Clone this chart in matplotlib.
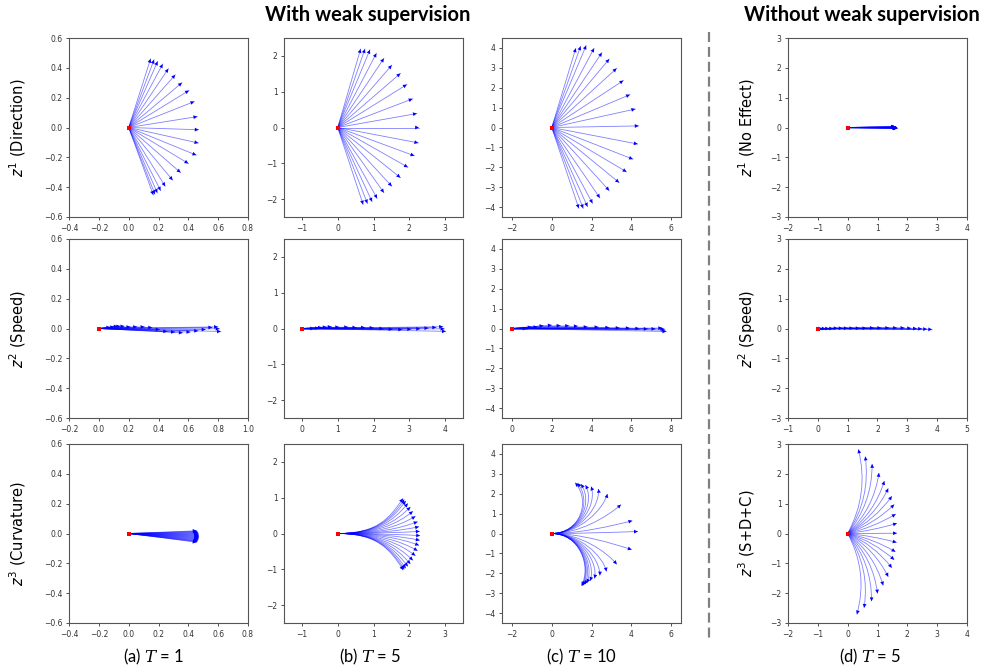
import matplotlib
matplotlib.use("Agg")
import matplotlib.pyplot as plt
from matplotlib.path import Path
from matplotlib.patches import PathPatch
from matplotlib.lines import Line2D

# ---------------- data ----------------
ORIGIN = (0.0, 0.0)

# Row 1: z^1 (Direction) / (No Effect)
A1_X = [0.147, 0.17, 0.194, 0.228, 0.266, 0.312, 0.357, 0.404, 0.44, 0.46, 0.469,
        0.467, 0.453, 0.40, 0.348, 0.295, 0.245, 0.214, 0.192, 0.176, 0.165]
A1_Y = [0.46, 0.454, 0.443, 0.425, 0.394, 0.353, 0.30, 0.248, 0.174, 0.073, -0.015,
        -0.104, -0.185, -0.241, -0.302, -0.353, -0.394, -0.423, -0.438, -0.447, -0.452]
B1_X = [0.64, 0.76, 0.90, 1.08, 1.29, 1.51, 1.75, 1.93, 2.09, 2.21, 2.27,
        2.25, 2.14, 1.96, 1.75, 1.51, 1.29, 1.10, 0.96, 0.83, 0.71]
B1_Y = [2.19, 2.19, 2.17, 2.07, 1.93, 1.74, 1.51, 1.20, 0.80, 0.39, 0.0,
        -0.43, -0.79, -1.11, -1.40, -1.64, -1.82, -1.98, -2.07, -2.12, -2.15]
C1_X = [1.21, 1.45, 1.73, 2.13, 2.52, 2.89, 3.26, 3.60, 3.93, 4.20, 4.37,
        4.32, 4.08, 3.76, 3.39, 2.89, 2.42, 2.05, 1.80, 1.58, 1.36]
C1_Y = [3.98, 4.08, 4.12, 3.98, 3.76, 3.44, 2.97, 2.36, 1.65, 0.93, 0.08,
        -0.83, -1.59, -2.23, -2.77, -3.17, -3.54, -3.81, -3.98, -4.06, -4.06]
D1_X = [1.58, 1.59, 1.60, 1.60, 1.61, 1.61, 1.62, 1.62, 1.62, 1.63, 1.63,
        1.63, 1.63, 1.64, 1.64, 1.64, 1.65, 1.65, 1.65, 1.66, 1.66]
D1_Y = [0.03, 0.027, 0.024, 0.021, 0.018, 0.015, 0.012, 0.009, 0.006, 0.003, 0.0,
        -0.003, -0.006, -0.009, -0.012, -0.015, -0.018, -0.021, -0.024, -0.027, -0.03]

# Row 2: z^2 (Speed)
A2_X = [0.076, 0.103, 0.126, 0.144, 0.171, 0.211, 0.256, 0.306, 0.357, 0.407,
        0.458, 0.51, 0.562, 0.613, 0.665, 0.715, 0.76, 0.798, 0.809, 0.818]
A2_Y = [0.009, 0.011, 0.016, 0.016, 0.016, 0.011, 0.011, 0.011, 0.007, -0.007,
        -0.02, -0.024, -0.029, -0.024, -0.016, -0.007, 0.007, 0.011, -0.002, -0.02]
B2_X = [0.34, 0.48, 0.56, 0.69, 0.83, 1.04, 1.29, 1.52, 1.76, 2.0,
        2.27, 2.53, 2.80, 3.05, 3.30, 3.53, 3.75, 3.94, 3.98, 4.02]
B2_Y = [0.0, 0.01, 0.03, 0.04, 0.05, 0.04, 0.04, 0.03, 0.03, 0.02,
        0.0, -0.02, -0.03, -0.02, -0.01, 0.01, 0.03, 0.05, -0.01, -0.08]
C2_X = [0.74, 0.99, 1.28, 1.58, 2.0, 2.44, 2.87, 3.31, 3.8, 4.35,
        4.89, 5.41, 5.92, 6.40, 6.82, 7.21, 7.55, 7.65, 7.71, 7.76]
C2_Y = [0.0, 0.07, 0.08, 0.14, 0.17, 0.15, 0.14, 0.12, 0.08, 0.07,
        0.05, 0.03, 0.02, 0.0, -0.02, -0.02, 0.02, -0.02, -0.08, -0.15]
D2_X = [0.15, 0.26, 0.375, 0.51, 0.66, 0.83, 1.0, 1.19, 1.40, 1.625,
        1.875, 2.125, 2.39, 2.65, 2.90, 3.125, 3.32, 3.49, 3.66, 3.83]
D2_Y = [0.0, 0.0, 0.0, 0.0, 0.01, 0.01, 0.01, 0.01, 0.01, 0.01,
        0.02, 0.02, 0.02, 0.02, 0.02, 0.01, 0.0, -0.01, -0.02, -0.03]

# Row 3: z^3 (Curvature) / (S+D+C)
A3_X = [0.455, 0.458, 0.461, 0.463, 0.465, 0.466, 0.467, 0.468, 0.468, 0.469, 0.469,
        0.469, 0.468, 0.467, 0.466, 0.465, 0.463, 0.461, 0.459, 0.457, 0.455]
A3_Y = [0.018, 0.015, 0.011, 0.007, 0.003, -0.001, -0.005, -0.009, -0.013, -0.017, -0.021,
        -0.025, -0.029, -0.033, -0.037, -0.041, -0.045, -0.049, -0.052, -0.055, -0.058]

B3_LEAD = 1.1
B3_X = [1.82, 1.86, 1.90, 1.96, 2.03, 2.10, 2.17, 2.23, 2.27, 2.29, 2.30,
        2.29, 2.27, 2.23, 2.17, 2.10, 2.03, 1.96, 1.90, 1.86, 1.83]
B3_Y = [0.98, 0.95, 0.91, 0.84, 0.74, 0.62, 0.48, 0.33, 0.19, 0.06, -0.06,
        -0.19, -0.33, -0.48, -0.62, -0.75, -0.85, -0.92, -0.97, -1.00, -1.02]
B3_CX = [1.45, 1.48, 1.51, 1.55, 1.60, 1.65, 1.70, 1.74, 1.77, 1.78, 1.78,
         1.78, 1.77, 1.74, 1.70, 1.65, 1.60, 1.55, 1.51, 1.48, 1.46]
B3_CY = [0.42, 0.40, 0.38, 0.35, 0.31, 0.26, 0.20, 0.14, 0.08, 0.03, -0.03,
         -0.08, -0.14, -0.20, -0.26, -0.31, -0.35, -0.38, -0.40, -0.42, -0.43]

C3_LEAD = 1.4
C3_X = [1.18, 1.30, 1.47, 1.70, 1.98, 2.35, 2.80, 3.48, 4.05, 4.33, 4.02,
        3.27, 2.75, 2.42, 2.15, 1.93, 1.77, 1.67, 1.58, 1.53, 1.50]
C3_Y = [2.55, 2.53, 2.48, 2.43, 2.36, 2.24, 1.99, 1.45, 0.64, 0.10, -0.81,
        -1.55, -1.91, -2.11, -2.26, -2.38, -2.48, -2.55, -2.60, -2.63, -2.62]
C3_CX = [2.0, 2.05, 2.12, 2.2, 2.3, 2.45, 2.6, 2.8, 3.0, 3.1, 3.0,
         2.75, 2.6, 2.45, 2.35, 2.25, 2.18, 2.12, 2.07, 2.03, 2.0]
C3_CY = [1.6, 1.58, 1.55, 1.5, 1.45, 1.38, 1.22, 0.85, 0.38, 0.06, -0.48,
         -0.9, -1.15, -1.3, -1.4, -1.48, -1.54, -1.58, -1.61, -1.63, -1.63]

D3_X = [0.36, 0.59, 0.82, 1.05, 1.23, 1.36, 1.48, 1.56, 1.61, 1.65, 1.65,
        1.64, 1.60, 1.56, 1.48, 1.36, 1.19, 1.0, 0.8, 0.55, 0.31]
D3_Y = [2.82, 2.58, 2.33, 2.03, 1.76, 1.51, 1.25, 0.97, 0.65, 0.34, 0.01,
        -0.30, -0.61, -0.88, -1.15, -1.45, -1.74, -2.01, -2.27, -2.49, -2.71]
D3_CX = [0.73, 0.78, 0.83, 0.88, 0.90, 0.90, 0.90, 0.89, 0.86, 0.84, 0.83,
         0.83, 0.85, 0.88, 0.89, 0.90, 0.88, 0.86, 0.82, 0.76, 0.70]
D3_CY = [1.34, 1.18, 1.02, 0.83, 0.68, 0.55, 0.43, 0.32, 0.20, 0.10, 0.0,
         -0.08, -0.17, -0.27, -0.38, -0.52, -0.67, -0.83, -0.99, -1.14, -1.29]

# axis limits / ticks
LIM_A1 = ((-0.4, 0.8), (-0.6, 0.6)); TICKS_A1 = ([-0.4, -0.2, 0.0, 0.2, 0.4, 0.6, 0.8], [-0.6, -0.4, -0.2, 0.0, 0.2, 0.4, 0.6])
LIM_A2 = ((-0.2, 1.0), (-0.6, 0.6)); TICKS_A2 = ([-0.2, 0.0, 0.2, 0.4, 0.6, 0.8, 1.0], [-0.6, -0.4, -0.2, 0.0, 0.2, 0.4, 0.6])
LIM_B1 = ((-1.5, 3.5), (-2.5, 2.5)); TICKS_B1 = ([-1, 0, 1, 2, 3], [-2, -1, 0, 1, 2])
LIM_B2 = ((-0.5, 4.5), (-2.5, 2.5)); TICKS_B2 = ([0, 1, 2, 3, 4], [-2, -1, 0, 1, 2])
LIM_C1 = ((-2.5, 6.5), (-4.5, 4.5)); TICKS_C1 = ([-2, 0, 2, 4, 6], [-4, -3, -2, -1, 0, 1, 2, 3, 4])
LIM_C2 = ((-0.5, 8.5), (-4.5, 4.5)); TICKS_C2 = ([0, 2, 4, 6, 8], [-4, -3, -2, -1, 0, 1, 2, 3, 4])
LIM_D1 = ((-2, 4), (-3, 3)); TICKS_D1 = ([-2, -1, 0, 1, 2, 3, 4], [-3, -2, -1, 0, 1, 2, 3])
LIM_D2 = ((-1, 5), (-3, 3)); TICKS_D2 = ([-1, 0, 1, 2, 3, 4, 5], [-3, -2, -1, 0, 1, 2, 3])

ROW_LABELS = ["$z^1$ (Direction)", "$z^2$ (Speed)", "$z^3$ (Curvature)"]
ROW_LABELS_D = ["$z^1$ (No Effect)", "$z^2$ (Speed)", "$z^3$ (S+D+C)"]
CAPTIONS = ["(a) $T$ = 1", "(b) $T$ = 5", "(c) $T$ = 10", "(d) $T$ = 5"]
TITLES = ["With weak supervision", "Without weak supervision"]

# ---------------- figure ----------------
W, H = 982, 666
fig = plt.figure(figsize=(W / 100, H / 100), dpi=100)

COL_X = [69, 284, 502, 788]
ROW_Y = [38, 239, 444]
SIZE = 179

LINE_KW = dict(color="blue", lw=0.6, alpha=0.5)
HEAD_PROPS = dict(arrowstyle="-|>,head_length=0.5,head_width=0.25", color="blue",
                  lw=0, shrinkA=0, shrinkB=0, mutation_scale=5.5)


def make_ax(col, row, lim, ticks):
    x0, y0 = COL_X[col], ROW_Y[row]
    ax = fig.add_axes([x0 / W, 1 - (y0 + SIZE) / H, SIZE / W, SIZE / H])
    ax.set_xlim(*lim[0]); ax.set_ylim(*lim[1])
    ax.set_xticks(ticks[0]); ax.set_yticks(ticks[1])
    ax.tick_params(labelsize=5.5, length=2.2, width=0.6, colors="#333333", pad=2.5)
    for s in ax.spines.values():
        s.set_color("#555555"); s.set_linewidth(0.8)
    return ax


def head(ax, start, end):
    ax.annotate("", xy=end, xytext=start, arrowprops=HEAD_PROPS)


def origin_marker(ax):
    ax.plot([ORIGIN[0]], [ORIGIN[1]], "s", color="red", ms=2.8, mew=0, zorder=10)


def straight(ax, xs, ys):
    for ex, ey in zip(xs, ys):
        ax.plot([ORIGIN[0], ex], [ORIGIN[1], ey], **LINE_KW)
        head(ax, ORIGIN, (ex, ey))
    origin_marker(ax)


def curved(ax, xs, ys, cxs, cys, lead=None):
    for ex, ey, cx, cy in zip(xs, ys, cxs, cys):
        if lead is None:
            verts = [ORIGIN, (cx, cy), (ex, ey)]
            codes = [Path.MOVETO, Path.CURVE3, Path.CURVE3]
        else:
            verts = [ORIGIN, (lead, ORIGIN[1]), (cx, cy), (ex, ey)]
            codes = [Path.MOVETO, Path.CURVE4, Path.CURVE4, Path.CURVE4]
        ax.add_patch(PathPatch(Path(verts, codes), fc="none", ec="blue", lw=0.6, alpha=0.5))
        head(ax, (cx, cy), (ex, ey))
    origin_marker(ax)


ax = make_ax(0, 0, LIM_A1, TICKS_A1); straight(ax, A1_X, A1_Y)
ax = make_ax(1, 0, LIM_B1, TICKS_B1); straight(ax, B1_X, B1_Y)
ax = make_ax(2, 0, LIM_C1, TICKS_C1); straight(ax, C1_X, C1_Y)
ax = make_ax(3, 0, LIM_D1, TICKS_D1); straight(ax, D1_X, D1_Y)

ax = make_ax(0, 1, LIM_A2, TICKS_A2); straight(ax, A2_X, A2_Y)
ax = make_ax(1, 1, LIM_B2, TICKS_B2); straight(ax, B2_X, B2_Y)
ax = make_ax(2, 1, LIM_C2, TICKS_C2); straight(ax, C2_X, C2_Y)
ax = make_ax(3, 1, LIM_D2, TICKS_D2); straight(ax, D2_X, D2_Y)

ax = make_ax(0, 2, LIM_A1, TICKS_A1); straight(ax, A3_X, A3_Y)
ax = make_ax(1, 2, LIM_B1, TICKS_B1); curved(ax, B3_X, B3_Y, B3_CX, B3_CY, lead=B3_LEAD)
ax = make_ax(2, 2, LIM_C1, TICKS_C1); curved(ax, C3_X, C3_Y, C3_CX, C3_CY, lead=C3_LEAD)
ax = make_ax(3, 2, LIM_D1, TICKS_D1); curved(ax, D3_X, D3_Y, D3_CX, D3_CY)

# row labels
for i, lab in enumerate(ROW_LABELS):
    yc = ROW_Y[i] + SIZE / 2
    fig.text(18 / W, 1 - yc / H, lab, rotation=90, ha="center", va="center",
             fontsize=10.5, family="DejaVu Sans")
for i, lab in enumerate(ROW_LABELS_D):
    yc = ROW_Y[i] + SIZE / 2
    fig.text(747 / W, 1 - yc / H, lab, rotation=90, ha="center", va="center",
             fontsize=10.5, family="DejaVu Sans")

# titles
fig.text(368 / W, 1 - 15 / H, TITLES[0], ha="center", va="center",
         fontsize=14.5, fontweight="bold", family="Lato")
fig.text(862 / W, 1 - 15 / H, TITLES[1], ha="center", va="center",
         fontsize=14.5, fontweight="bold", family="Lato")

# captions
CAP_X = [154, 370, 582, 870]
for cx, cap in zip(CAP_X, CAPTIONS):
    fig.text(cx / W, 1 - 657 / H, cap, ha="center", va="center", fontsize=12,
             family="Lato", math_fontfamily="dejavuserif")

# dashed separator
fig.add_artist(Line2D([709 / W, 709 / W], [1 - 32 / H, 1 - 638 / H],
                      transform=fig.transFigure, color="#808080", lw=1.6,
                      dashes=(4.5, 2.2)))

fig.savefig("out.png", dpi=100)
